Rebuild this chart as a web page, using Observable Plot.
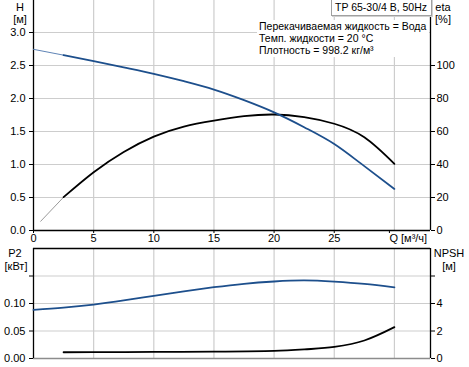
<!DOCTYPE html>
<html><head><meta charset="utf-8">
<script src="https://cdn.jsdelivr.net/npm/d3@7"></script>
<script src="https://cdn.jsdelivr.net/npm/@observablehq/plot@0.6"></script>
<style>
body{margin:0;background:#fff;font-family:"Liberation Sans",Arial,sans-serif;color:#000;}
#wrap{position:relative;width:469px;height:367px;overflow:hidden;}
#wrap svg{position:absolute;left:0;}
.lbl{position:absolute;font-size:11px;line-height:1;transform:translate(-50%,-50%);white-space:nowrap;}
#box{position:absolute;left:331px;top:-1px;width:96px;height:15px;border:1px solid #a0a0a0;box-shadow:1px 1px 0 #d0d0d0;background:#fff;font-size:10.5px;line-height:15px;padding-left:3px;box-sizing:content-box;}
#note{position:absolute;left:257px;top:20px;width:172px;height:37px;background:#fff;font-size:10.5px;line-height:12.2px;padding-left:2px;box-sizing:border-box;}
</style></head><body><div id="wrap"></div>
<script>
// Top panel: H [м] and eta [%] vs Q [м³/ч]
const qHThin = [0, 2.5];
const hThin = [2.745, 2.657];
const qH = [2.5, 5, 7.5, 10, 12.5, 15, 17.5, 20, 22.5, 25, 27.5, 30];
const hValues = [2.657, 2.566, 2.472, 2.374, 2.262, 2.135, 1.975, 1.79, 1.565, 1.31, 0.975, 0.63];
const qEtaThin = [0.6, 2.5];
const etaThin = [5.6, 20.2];
const qEta = [2.5, 5, 7.5, 10, 12.5, 15, 17.5, 20, 22.5, 25, 27.5, 30];
const etaValues = [20.2, 35.3, 47.6, 56.9, 63.0, 66.6, 69.3, 70.3, 68.7, 64.7, 56.5, 40.4];
// Bottom panel: P2 [кВт] and NPSH [м]
const qP2 = [0, 2.5, 5, 7.5, 10, 12.5, 15, 17.5, 20, 22.5, 25, 27.5, 30];
const p2Values = [0.0885, 0.0925, 0.098, 0.1055, 0.114, 0.1222, 0.1296, 0.1358, 0.140, 0.142, 0.1397, 0.1355, 0.1294];
const qNpsh = [2.5, 5, 10, 15, 20, 22.5, 25, 27.5, 30];
const npshValues = [0.455, 0.46, 0.48, 0.50, 0.55, 0.66, 0.84, 1.31, 2.28];
// ticks
const qTicks = [0, 5, 10, 15, 20, 25];
const qGrid = [5, 10, 15, 20, 25, 30];
const hTicks = [0, 0.5, 1.0, 1.5, 2.0, 2.5, 3.0];
const etaTicks = [0, 20, 40, 60, 80, 100];
const p2Ticks = [0, 0.05, 0.10, 0.15];
const npshTicks = [0, 2, 4, 6];
const qAxisLabel = "Q [м³/ч]";
const etaRatio = 40; // eta% per м, NPSH м per кВт

const blue = "#1d4f8c";
const gridC = "#cdcdcd";
const font = {fontFamily: "'Liberation Sans', Arial, sans-serif", fontSize: "11px", background: "transparent"};
const zip = (xs, ys) => xs.map((x, i) => ({x, y: ys[i]}));

const topPlot = Plot.plot({
  width: 469, height: 245, marginLeft: 33, marginRight: 39, marginTop: 0, marginBottom: 15,
  x: {domain: [0, 33]}, y: {domain: [0, 3.485]},
  style: font,
  marks: [
    Plot.gridX(qGrid, {stroke: gridC, strokeOpacity: 1, strokeWidth: 1.2}),
    Plot.gridY(hTicks.filter(d => d > 0), {stroke: gridC, strokeOpacity: 1, strokeWidth: 1.2}),
    Plot.ruleY([0], {stroke: "#000", strokeWidth: 1.3}),
    Plot.ruleX([0], {stroke: "#000", strokeWidth: 1.3}),
    Plot.ruleX([33], {stroke: "#000", strokeWidth: 1.3}),
    Plot.axisY(hTicks, {anchor: "left", tickSize: 4, tickPadding: 4, tickFormat: d => d.toFixed(1), label: null}),
    Plot.axisY(etaTicks.map(d => d / etaRatio), {anchor: "right", tickSize: 4, tickPadding: 2, tickFormat: d => String(Math.round(d * etaRatio)), label: null}),
    Plot.axisX(qTicks, {anchor: "bottom", tickSize: 3, tickPadding: 1, label: null}),
    Plot.axisX([30], {anchor: "bottom", tickSize: 3, tickPadding: 1, label: null, tickFormat: () => qAxisLabel, textAnchor: "start", dx: -5}),
    Plot.line(zip(qHThin, hThin), {x: "x", y: "y", stroke: "#5f84b6", strokeWidth: 1}),
    Plot.line(zip(qEtaThin, etaThin), {x: "x", y: d => d.y / etaRatio, stroke: "#9a9a9a", strokeWidth: 1}),
    Plot.line(zip(qEta, etaValues), {x: "x", y: d => d.y / etaRatio, stroke: "#000", strokeWidth: 1.8, curve: "natural"}),
    Plot.line(zip(qH, hValues), {x: "x", y: "y", stroke: blue, strokeWidth: 1.8, curve: "monotone-x"})
  ]
});

const botPlot = Plot.plot({
  width: 469, height: 122, marginLeft: 33, marginRight: 39, marginTop: 3, marginBottom: 9,
  x: {domain: [0, 33], axis: null}, y: {domain: [0, 0.2]},
  style: font,
  marks: [
    Plot.gridX(qGrid, {stroke: gridC, strokeOpacity: 1, strokeWidth: 1.2}),
    Plot.gridY(p2Ticks.filter(d => d > 0), {stroke: gridC, strokeOpacity: 1, strokeWidth: 1.2}),
    Plot.ruleY([0], {stroke: "#8c8c8c", strokeWidth: 1.3}),
    Plot.ruleY([0.2], {stroke: "#000", strokeWidth: 1.3}),
    Plot.ruleX([0], {stroke: "#000", strokeWidth: 1.3}),
    Plot.ruleX([33], {stroke: "#000", strokeWidth: 1.3}),
    Plot.axisY(p2Ticks, {anchor: "left", tickSize: 4, tickPadding: 4, tickFormat: d => d < 0.14 ? d.toFixed(2) : "", label: null}),
    Plot.axisY(npshTicks.map(d => d / etaRatio), {anchor: "right", tickSize: 4, tickPadding: 2, tickFormat: d => { const v = Math.round(d * etaRatio); return v < 6 ? String(v) : ""; }, label: null}),
    Plot.line(zip(qNpsh, npshValues), {x: "x", y: d => d.y / etaRatio, stroke: "#000", strokeWidth: 1.8, curve: "monotone-x"}),
    Plot.line(zip(qP2, p2Values), {x: "x", y: "y", stroke: blue, strokeWidth: 1.8, curve: "natural"})
  ]
});

const wrap = document.getElementById("wrap");
topPlot.style.top = "0px";
botPlot.style.top = "245px";
wrap.appendChild(topPlot);
wrap.appendChild(botPlot);

const labels = [
  ["H", 20, 7], ["[м]", 20, 19],
  ["eta", 443, 7], ["[%]", 443, 19],
  ["P2", 15, 253], ["[кВт]", 16, 266],
  ["NPSH", 449, 253], ["[м]", 449, 266]
];
for (const [t, x, y] of labels) {
  const d = document.createElement("div");
  d.className = "lbl"; d.textContent = t;
  d.style.left = x + "px"; d.style.top = y + "px";
  wrap.appendChild(d);
}
const box = document.createElement("div");
box.id = "box"; box.textContent = "TP 65-30/4 B, 50Hz";
wrap.appendChild(box);
const note = document.createElement("div");
note.id = "note";
note.innerHTML = "Перекачиваемая жидкость = Вода<br>Темп. жидкости = 20 °C<br>Плотность = 998.2 кг/м³";
wrap.appendChild(note);
</script></body></html>
